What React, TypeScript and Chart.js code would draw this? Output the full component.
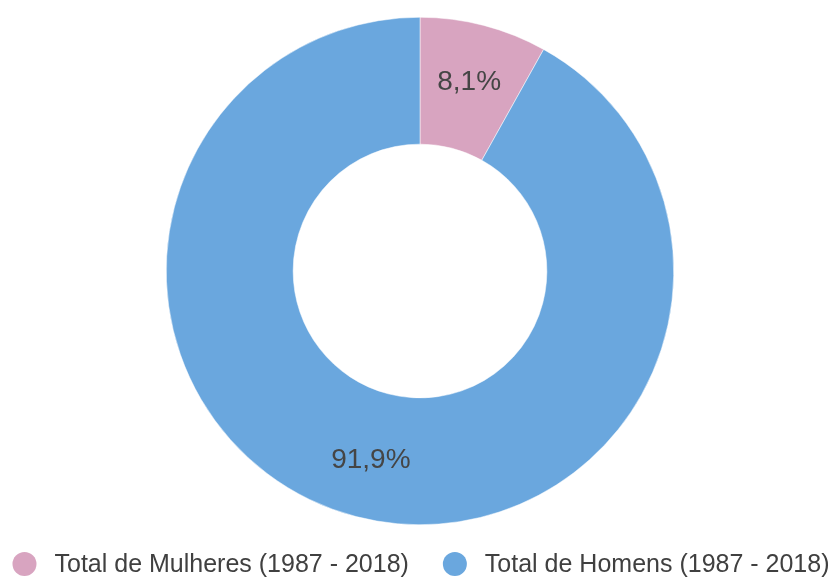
import React, { useEffect, useRef } from "react";
import { Chart, registerables } from "chart.js";

Chart.register(...registerables);

const categories = ["Total de Mulheres (1987 - 2018)", "Total de Homens (1987 - 2018)"];
const values = [8.1, 91.9];
const valueLabels = ["8,1%", "91,9%"];
const colors = ["#d8a4c0", "#6aa7de"];

const FONT_FAMILY = "'Liberation Sans', Arial, sans-serif";

const labelPlugin = {
  id: "sliceLabels",
  afterDatasetsDraw(chart: any) {
    const ctx = chart.ctx;
    const meta = chart.getDatasetMeta(0);
    ctx.save();
    ctx.font = `28px ${FONT_FAMILY}`;
    ctx.fillStyle = "#454545";
    ctx.textAlign = "center";
    ctx.textBaseline = "middle";
    meta.data.forEach((arc: any, i: number) => {
      const p = arc.getProps(["x", "y", "startAngle", "endAngle", "innerRadius", "outerRadius"], true);
      const mid = (p.startAngle + p.endAngle) / 2;
      const r = (p.innerRadius + p.outerRadius) / 2 + 5;
      ctx.fillText(valueLabels[i], p.x + Math.cos(mid) * r, p.y + Math.sin(mid) * r);
    });
    ctx.restore();
  },
};

const legendPlugin = {
  id: "bottomLegend",
  afterDraw(chart: any) {
    const ctx = chart.ctx;
    const labels: string[] = chart.data.labels;
    const bg: string[] = chart.data.datasets[0].backgroundColor;
    const radius = 12;
    const textGap = 30; // circle centre to text start
    const itemGap = 34;
    ctx.save();
    ctx.font = `25px ${FONT_FAMILY}`;
    const widths = labels.map((l) => ctx.measureText(l).width);
    const total = widths.reduce((a, w) => a + radius + textGap + w, 0) + itemGap * (labels.length - 1);
    let x = 421 - total / 2;
    const y = 564;
    ctx.textBaseline = "middle";
    ctx.textAlign = "left";
    labels.forEach((l, i) => {
      const cx = x + radius;
      ctx.beginPath();
      ctx.arc(cx, y, radius, 0, Math.PI * 2);
      ctx.fillStyle = bg[i];
      ctx.fill();
      ctx.fillStyle = "#404040";
      ctx.fillText(l, cx + textGap, y + 1);
      x = cx + textGap + widths[i] + itemGap;
    });
    ctx.restore();
  },
};

export default function App() {
  const ref = useRef<HTMLCanvasElement | null>(null);
  useEffect(() => {
    if (!ref.current) return;
    const chart = new Chart(ref.current, {
      type: "doughnut",
      data: {
        labels: categories,
        datasets: [
          {
            data: values,
            backgroundColor: colors,
            borderColor: "#ffffff",
            borderWidth: 0.5,
          },
        ],
      },
      options: {
        responsive: false,
        animation: false,
        cutout: "50%",
        layout: { padding: { top: 17, bottom: 52, left: 6, right: 0 } },
        plugins: {
          tooltip: { enabled: false },
          legend: { display: false },
        },
      },
      plugins: [labelPlugin, legendPlugin],
    });
    return () => chart.destroy();
  }, []);
  return (
    <div style={{ position: "absolute", left: 0, top: 0, width: 834, height: 577, background: "#fff" }}>
      <canvas ref={ref} width={834} height={577} />
    </div>
  );
}
